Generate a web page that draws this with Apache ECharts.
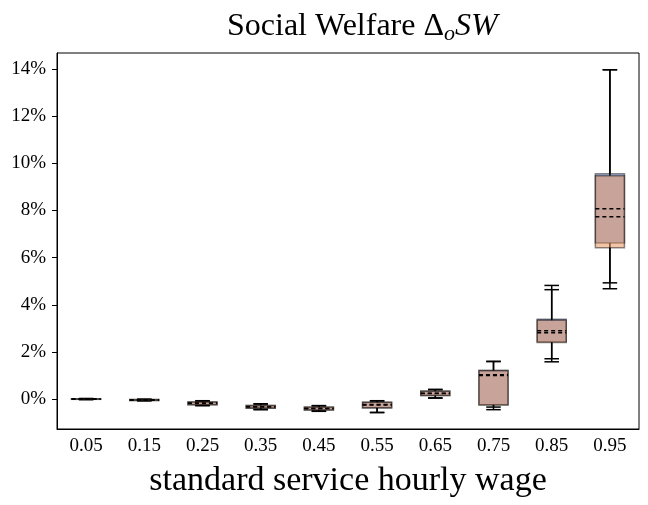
<!DOCTYPE html>
<html>
<head>
<meta charset="utf-8">
<script src="https://cdn.jsdelivr.net/npm/echarts@6/dist/echarts.min.js"></script>
<style>
html, body { margin: 0; padding: 0; background: #fff; }
#chart { width: 648px; height: 505px; }
</style>
</head>
<body>
<div id="chart"></div>
<script>
// hourly wage categories
var categories = ['0.05', '0.15', '0.25', '0.35', '0.45', '0.55', '0.65', '0.75', '0.85', '0.95'];
var yTicks = [0, 2, 4, 6, 8, 10, 12, 14];

// first box set (blue), values in %
var blueMin  = [-0.02, -0.07, -0.28, -0.45, -0.51, -0.57, 0.04, -0.34, 1.71, 4.93];
var blueQ1   = [-0.01, -0.06, -0.24, -0.39, -0.46, -0.38, 0.15, -0.24, 2.43, 6.62];
var blueMean = [0.00, -0.04, -0.18, -0.33, -0.40, -0.23, 0.25, 1.03, 2.90, 8.07];
var blueQ3   = [0.01, -0.02, -0.12, -0.27, -0.35, -0.13, 0.34, 1.22, 3.39, 9.56];
var blueMax  = [0.02, -0.01, -0.07, -0.20, -0.28, -0.07, 0.41, 1.60, 4.82, 13.97];

// second box set (orange)
var orangeMin  = [-0.02, -0.07, -0.27, -0.44, -0.52, -0.57, 0.05, -0.45, 1.58, 4.68];
var orangeQ1   = [-0.01, -0.06, -0.24, -0.38, -0.46, -0.37, 0.15, -0.25, 2.40, 6.42];
var orangeMean = [0.00, -0.04, -0.18, -0.33, -0.40, -0.25, 0.24, 1.00, 2.81, 7.73];
var orangeQ3   = [0.01, -0.02, -0.12, -0.27, -0.34, -0.14, 0.33, 1.20, 3.34, 9.47];
var orangeMax  = [0.02, -0.01, -0.08, -0.21, -0.28, -0.08, 0.40, 1.59, 4.64, 13.97];

var serif = 'Liberation Serif';

function rows(mn, q1, mean, q3, mx) {
    return categories.map(function (c, i) {
        return [i, mn[i], q1[i], mean[i], q3[i], mx[i]];
    });
}

// part 'box' draws box + whiskers, part 'mean' draws only the dashed mean line
function boxRenderer(fill, part) {
    return function (params, api) {
        var x = api.value(0);
        var lo = api.coord([x, api.value(1)]);
        var q1 = api.coord([x, api.value(2)]);
        var mean = api.coord([x, api.value(3)]);
        var q3 = api.coord([x, api.value(4)]);
        var hi = api.coord([x, api.value(5)]);
        var band = api.size([1, 0])[0];
        var bw = band * 0.5, cw = band * 0.25;
        var cx = q1[0];
        if (part === 'mean') {
            return {
                type: 'line',
                shape: { x1: cx - bw / 2, y1: mean[1], x2: cx + bw / 2, y2: mean[1] },
                style: { stroke: '#000', lineWidth: 1.5, lineDash: [4, 3] }
            };
        }
        var line = { stroke: '#000', lineWidth: 1.5 };
        return {
            type: 'group',
            children: [
                { type: 'line', shape: { x1: cx, y1: q3[1], x2: cx, y2: hi[1] }, style: line },
                { type: 'line', shape: { x1: cx, y1: q1[1], x2: cx, y2: lo[1] }, style: line },
                { type: 'line', shape: { x1: cx - cw / 2, y1: hi[1], x2: cx + cw / 2, y2: hi[1] }, style: line },
                { type: 'line', shape: { x1: cx - cw / 2, y1: lo[1], x2: cx + cw / 2, y2: lo[1] }, style: line },
                {
                    type: 'rect',
                    shape: { x: cx - bw / 2, y: q3[1], width: bw, height: q1[1] - q3[1] },
                    style: { fill: fill, stroke: 'rgba(0,0,0,0.45)', lineWidth: 1.5 }
                }
            ]
        };
    };
}

var blueRows = rows(blueMin, blueQ1, blueMean, blueQ3, blueMax);
var orangeRows = rows(orangeMin, orangeQ1, orangeMean, orangeQ3, orangeMax);

var chart = echarts.init(document.getElementById('chart'));
var option = {
    animation: false,
    title: {
        text: '{a|Social Welfare Δ}{s|o}{i|SW}',
        left: 222,
        top: 4,
        textStyle: {
            fontWeight: 'normal',
            rich: {
                a: { fontFamily: serif, fontSize: 32, fontWeight: 'normal', color: '#000', lineHeight: 36 },
                s: { fontFamily: serif, fontSize: 22, fontStyle: 'italic', fontWeight: 'normal', color: '#000', lineHeight: 36, padding: [14, 0, 0, 0] },
                i: { fontFamily: serif, fontSize: 32, fontStyle: 'italic', fontWeight: 'normal', color: '#000', lineHeight: 36 }
            }
        }
    },
    grid: {
        left: 57, right: 9, top: 53, bottom: 76,
        outerBoundsMode: 'none',
        show: true, borderColor: '#000', borderWidth: 1
    },
    xAxis: {
        type: 'category',
        data: categories,
        name: 'standard service hourly wage',
        nameLocation: 'middle',
        nameGap: 35,
        nameTextStyle: { fontFamily: serif, fontSize: 34, color: '#000' },
        axisLine: { onZero: false, lineStyle: { color: '#000', width: 1 } },
        axisTick: { alignWithLabel: true, length: 5, lineStyle: { color: '#000' } },
        axisLabel: { fontFamily: serif, fontSize: 19, color: '#000', margin: 8 }
    },
    yAxis: {
        type: 'value',
        min: -1.27,
        max: 14.68,
        splitLine: { show: false },
        axisLine: { show: true, lineStyle: { color: '#000', width: 1 } },
        axisTick: { show: true, length: 5, customValues: yTicks, lineStyle: { color: '#000' } },
        axisLabel: {
            fontFamily: serif, fontSize: 19, color: '#000', margin: 11,
            customValues: yTicks,
            formatter: function (v) { return v + '%'; }
        }
    },
    series: [
        {
            name: 'blue',
            type: 'custom',
            renderItem: boxRenderer('rgba(90,120,200,0.5)', 'box'),
            encode: { x: 0, y: [1, 2, 3, 4, 5] },
            data: blueRows
        },
        {
            name: 'orange',
            type: 'custom',
            renderItem: boxRenderer('rgba(230,140,80,0.5)', 'box'),
            encode: { x: 0, y: [1, 2, 3, 4, 5] },
            data: orangeRows
        },
        {
            name: 'blue mean',
            type: 'custom',
            renderItem: boxRenderer(null, 'mean'),
            encode: { x: 0, y: [1, 2, 3, 4, 5] },
            data: blueRows
        },
        {
            name: 'orange mean',
            type: 'custom',
            renderItem: boxRenderer(null, 'mean'),
            encode: { x: 0, y: [1, 2, 3, 4, 5] },
            data: orangeRows
        }
    ]
};
chart.setOption(option);
</script>
</body>
</html>
